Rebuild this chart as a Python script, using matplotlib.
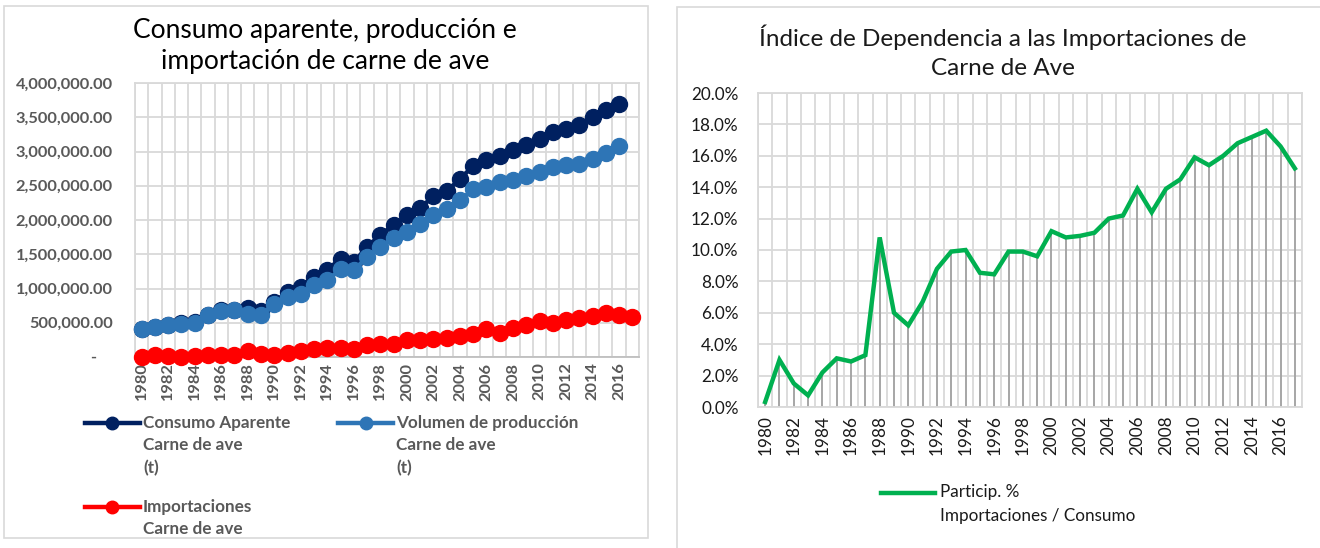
import numpy as np
import matplotlib.pyplot as plt
from matplotlib.lines import Line2D
from matplotlib.patches import Rectangle
from matplotlib.ticker import FuncFormatter, MultipleLocator

plt.rcParams['font.family'] = ['Lato', 'DejaVu Sans']

### DATA ###
years = list(range(1980, 2018))
consumo = [410000, 445000, 470000, 490000, 505000, 615000, 680000, 690000, 715000, 667000,
           803000, 949000, 1022000, 1168000, 1275000, 1436000, 1387000, 1606000, 1786000, 1922000,
           2068000, 2180000, 2345000, 2418000, 2603000, 2788000, 2881000, 2929000, 3017000, 3090000,
           3187000, 3285000, 3333000, 3392000, 3504000, 3611000, 3700000]
produccion = [404000, 438000, 462000, 487000, 501000, 608000, 667000, 681000, 633000, 618000,
              779000, 876000, 925000, 1046000, 1119000, 1280000, 1265000, 1460000, 1606000, 1737000,
              1825000, 1937000, 2078000, 2165000, 2287000, 2448000, 2482000, 2555000, 2589000, 2637000,
              2701000, 2774000, 2808000, 2822000, 2886000, 2983000, 3085000]
importaciones = [2000, 24000, 10000, 5000, 10000, 22000, 22000, 25000, 83000, 49000,
                 34000, 58000, 83000, 117000, 136000, 131000, 122000, 180000, 195000, 195000,
                 243000, 243000, 268000, 277000, 307000, 341000, 404000, 350000, 423000, 462000,
                 521000, 501000, 535000, 569000, 599000, 647000, 618000, 584000]
particip = [0.32, 3.0, 1.5, 0.74, 2.2, 3.1, 2.9, 3.3, 10.8, 6.0,
            5.2, 6.7, 8.8, 9.9, 10.0, 8.55, 8.45, 9.9, 9.9, 9.6,
            11.2, 10.8, 10.9, 11.1, 12.0, 12.2, 13.9, 12.4, 13.9, 14.5,
            15.9, 15.4, 16.0, 16.8, 17.2, 17.6, 16.6, 15.2]

series_labels = ['Consumo Aparente\nCarne de ave\n(t)',
                 'Volumen de producción\nCarne de ave\n(t)',
                 'Importaciones\nCarne de ave']
title_left = 'Consumo aparente, producción e\nimportación de carne de ave'
title_right = 'Índice de Dependencia a las Importaciones de\nCarne de Ave'
legend_right = 'Particip. %\nImportaciones / Consumo'

c_cons = '#002060'
c_prod = '#2e75b6'
c_imp = '#ff0000'
c_green = '#00b050'
grid_c = '#d9d9d9'
txt_gray = '#595959'

W, H = 1320, 548
fig = plt.figure(figsize=(W / 100, H / 100), dpi=100)

def fx(px):
    return px / W

def fy(py):
    return 1 - py / H

# panel borders
fig.add_artist(Rectangle((fx(4), fy(538)), fx(644), 532 / H, transform=fig.transFigure,
                         fill=False, ec=grid_c, lw=1.2))
fig.add_artist(Rectangle((fx(677), fy(560)), fx(660), 553 / H, transform=fig.transFigure,
                         fill=False, ec=grid_c, lw=1.2))

def style_axes(ax, n):
    ax.set_xlim(-0.5, n - 0.5)
    ax.set_xticks(np.arange(-0.5, n, 1.0), minor=True)
    ax.grid(True, which='minor', axis='x', color=grid_c, lw=1.3)
    ax.grid(True, which='major', axis='y', color=grid_c, lw=1.3)
    ax.tick_params(which='both', length=0)
    for s in ax.spines.values():
        s.set_color(grid_c)
        s.set_linewidth(1.3)
    ax.set_axisbelow(True)

# ---------- left chart ----------
axl = fig.add_axes([fx(135), fy(357), fx(639 - 135), (357 - 83) / H])
n = len(years)
x = np.arange(n)
style_axes(axl, n)
axl.set_ylim(0, 4000000)
axl.yaxis.set_major_locator(MultipleLocator(500000))
axl.yaxis.set_major_formatter(FuncFormatter(lambda v, p: '-    ' if v == 0 else f'{v:,.2f}'))
axl.set_xticks(x[::2])
axl.set_xticklabels([str(y) for y in years[::2]], rotation=90)
for lab in axl.get_xticklabels() + axl.get_yticklabels():
    lab.set_fontweight('bold')
    lab.set_color(txt_gray)
    lab.set_fontsize(11.8)
axl.tick_params(axis='x', pad=4)
axl.tick_params(axis='y', pad=16)
axl.spines['bottom'].set_color('#bfbfbf')

mk = dict(marker='o', markersize=11.5, lw=3, clip_on=False)
axl.plot(x[:len(consumo)], consumo, color=c_cons, zorder=3, **mk)
axl.plot(x[:len(produccion)], produccion, color=c_prod, zorder=4, **mk)
axl.plot(x[:len(importaciones)], importaciones, color=c_imp, zorder=5, **mk)
fig.text(fx(325), fy(46), title_left, ha='center', va='center', fontsize=19,
         linespacing=1.3, color='black')

# manual legend
leg = [(85, 423, c_cons, series_labels[0]), (338, 423, c_prod, series_labels[1]),
       (85, 507, c_imp, series_labels[2])]
for lx, ly, col, lab in leg:
    fig.add_artist(Line2D([fx(lx), fx(lx + 55)], [fy(ly), fy(ly)], color=col, lw=3.2,
                          transform=fig.transFigure))
    fig.add_artist(Line2D([fx(lx + 27.5)], [fy(ly)], color=col, marker='o', markersize=9,
                          transform=fig.transFigure))
    fig.text(fx(lx + 58), fy(ly - 8), lab, ha='left', va='top', fontsize=12.3,
             fontweight='bold', color=txt_gray, linespacing=1.5)

# ---------- right chart ----------
axr = fig.add_axes([fx(758), fy(407), fx(1302 - 758), (407 - 93) / H])
style_axes(axr, n)
p = np.array(particip) / 100
axr.set_ylim(0, 0.20)
axr.yaxis.set_major_locator(MultipleLocator(0.02))
axr.yaxis.set_major_formatter(FuncFormatter(lambda v, q: f'{v * 100:.1f}%'))
axr.set_xticks(x[::2])
axr.set_xticklabels([str(y) for y in years[::2]], rotation=90)
for lab in axr.get_xticklabels() + axr.get_yticklabels():
    lab.set_color('#1a1a1a')
    lab.set_fontsize(12.3)
axr.tick_params(axis='y', pad=14)
axr.tick_params(axis='x', pad=6)
axr.vlines(x, 0, p, color='#a6a6a6', lw=1.4, zorder=2)
axr.plot(x, p, color=c_green, lw=3.2, zorder=3, solid_joinstyle='miter')
fig.text(fx(1003), fy(52), title_right, ha='center', va='center', fontsize=17.5,
         linespacing=1.45, color='#1a1a1a')
fig.add_artist(Line2D([fx(881), fx(935)], [fy(493), fy(493)], color=c_green, lw=3.2,
                      transform=fig.transFigure))
fig.text(fx(940), fy(484), legend_right, ha='left', va='top', fontsize=12.3,
         color='#1a1a1a', linespacing=1.6)

fig.savefig('out.png', dpi=100)
